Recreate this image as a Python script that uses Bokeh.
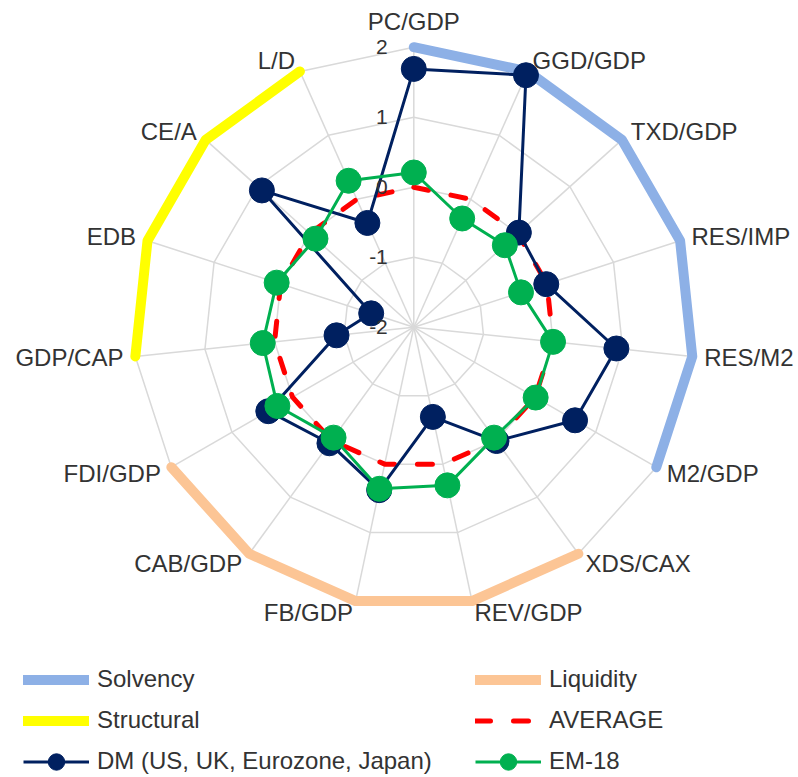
import numpy as np
from bokeh.plotting import figure
from bokeh.models import Range1d, Legend, LegendItem
from bokeh.core.properties import value
from bokeh.embed import file_html
from bokeh.resources import INLINE

# ---- data -------------------------------------------------------------
categories = ["PC/GDP", "GGD/GDP", "TXD/GDP", "RES/IMP", "RES/M2", "M2/GDP",
              "XDS/CAX", "REV/GDP", "FB/GDP", "CAB/GDP", "FDI/GDP",
              "GDP/CAP", "EDB", "CE/A", "L/D"]
nan = float("nan")
solvency = [2, 2, 2, 2, 2, 2, nan, nan, nan, nan, nan, nan, nan, nan, nan]
liquidity = [nan, nan, nan, nan, nan, nan, 2, 2, 2, 2, 2, nan, nan, nan, nan]
structural = [nan, nan, nan, nan, nan, nan, nan, nan, nan, nan, nan, 2, 2, 2, 2]
average = [0, 0, 0, 0, 0, 0, 0, 0, 0, 0, 0, 0, 0, 0, 0]
dm = [1.69, 1.94, 0.02, -0.01, 0.91, 0.66, 0.01, -0.69, 0.38, 0.05, 0.40,
      -0.89, -1.36, 0.92, -0.37]
em18 = [0.21, -0.30, -0.25, -0.39, 0.0, 0.01, -0.05, 0.31, 0.36, -0.05, 0.25,
        0.17, 0.06, -0.11, 0.29]
tick_values = [2, 1, 0, -1, -2]
tick_labels = ["2", "1", "0", "-1", "-2"]

# ---- geometry ---------------------------------------------------------
V_MIN, V_MAX = -2, 2
W, H = 798, 777
PX = 70.0                 # pixels per unit of score
CX, CY = 413.3, 326.7     # centre of the web, pixels from the top-left
n = len(categories)
angles = np.arange(n) * 2 * np.pi / n
sin_a, cos_a = np.sin(angles), np.cos(angles)


def polar(values, close=True):
    r = np.asarray(values, dtype=float) - V_MIN
    x, y = r * sin_a, r * cos_a
    if close:
        x, y = np.append(x, x[0]), np.append(y, y[0])
    return x, y


p = figure(width=W, height=H, output_backend="svg", toolbar_location=None,
           x_range=Range1d(-CX / PX, (W - CX) / PX),
           y_range=Range1d(-(H - CY) / PX, CY / PX),
           x_axis_location=None, y_axis_location=None, min_border=0)
p.grid.visible = False
p.outline_line_color = None
p.background_fill_color = "white"
p.border_fill_color = "white"

FONT = value("Liberation Sans")
TEXT_COLOR = "#333333"
GRID = "#d9d9d9"

# web: rings and spokes
for v in tick_values:
    if v == V_MIN:
        continue
    rx, ry = polar([v] * n)
    p.line(rx, ry, line_color=GRID, line_width=1.5)
ox, oy = polar([V_MAX] * n, close=False)
p.segment(x0=np.zeros(n), y0=np.zeros(n), x1=ox, y1=oy,
          line_color=GRID, line_width=1.5)

# group outlines
sx, sy = polar(solvency)
r_solv = p.line(sx, sy, line_color="#8db0e6", line_width=10,
                line_cap="round", line_join="round")
lx, ly = polar(liquidity)
r_liq = p.line(lx, ly, line_color="#fcc595", line_width=10,
               line_cap="round", line_join="round")
tx, ty = polar(structural)
r_struct = p.line(tx, ty, line_color="#ffff00", line_width=10,
                  line_cap="round", line_join="round")

# series
ax, ay = polar(average)
r_avg = p.line(ax, ay, line_color="#ff0000", line_width=5,
               line_dash="15 23", line_cap="round")

dx, dy = polar(dm)
r_dm_line = p.line(dx, dy, line_color="#002060", line_width=3)
r_dm_pts = p.scatter(dx[:-1], dy[:-1], size=25, fill_color="#002060",
                     line_color="#002060")

ex, ey = polar(em18)
r_em_line = p.line(ex, ey, line_color="#00b050", line_width=3)
r_em_pts = p.scatter(ex[:-1], ey[:-1], size=25, fill_color="#00b050",
                     line_color="#00b050")

# category labels just outside the outer ring
lab_r = (V_MAX - V_MIN) + 12 / PX
groups = {}
for i, name in enumerate(categories):
    s, c = sin_a[i], cos_a[i]
    if s > 0.05:
        align, base = "left", "middle"
    elif s < -0.05:
        align, base = "right", "middle"
    else:
        align, base = "center", ("bottom" if c > 0 else "top")
    g = groups.setdefault((align, base), ([], [], []))
    g[0].append(lab_r * s)
    g[1].append(lab_r * c)
    g[2].append(name)
for (align, base), (gx, gy, gt) in groups.items():
    p.text(x=gx, y=gy, text=gt, text_align=align, text_baseline=base,
           text_font=FONT, text_font_size="24px", text_color=TEXT_COLOR)

# value labels along the top spoke
p.text(x=[0] * len(tick_values), y=[v - V_MIN for v in tick_values],
       text=tick_labels, x_offset=-26, text_align="right",
       text_baseline="middle", text_font=FONT, text_font_size="21px",
       text_color=TEXT_COLOR)

# legends: two columns of three entries
common = dict(orientation="vertical", glyph_width=66, glyph_height=41,
              label_height=41, label_standoff=8, spacing=0, padding=0,
              margin=0, border_line_alpha=0, background_fill_alpha=0,
              label_text_font="Liberation Sans", label_text_font_size="24px",
              label_text_color=TEXT_COLOR)
leg_left = Legend(items=[
    LegendItem(label="Solvency", renderers=[r_solv]),
    LegendItem(label="Structural", renderers=[r_struct]),
    LegendItem(label="DM (US, UK, Eurozone, Japan)",
               renderers=[r_dm_line, r_dm_pts]),
], location=(23, -4.5), **common)
leg_right = Legend(items=[
    LegendItem(label="Liquidity", renderers=[r_liq]),
    LegendItem(label="AVERAGE", renderers=[r_avg]),
    LegendItem(label="EM-18", renderers=[r_em_line, r_em_pts]),
], location=(475, -4.5), **common)
p.add_layout(leg_left)
p.add_layout(leg_right)

open("out.html", "w").write(file_html(p, INLINE))
